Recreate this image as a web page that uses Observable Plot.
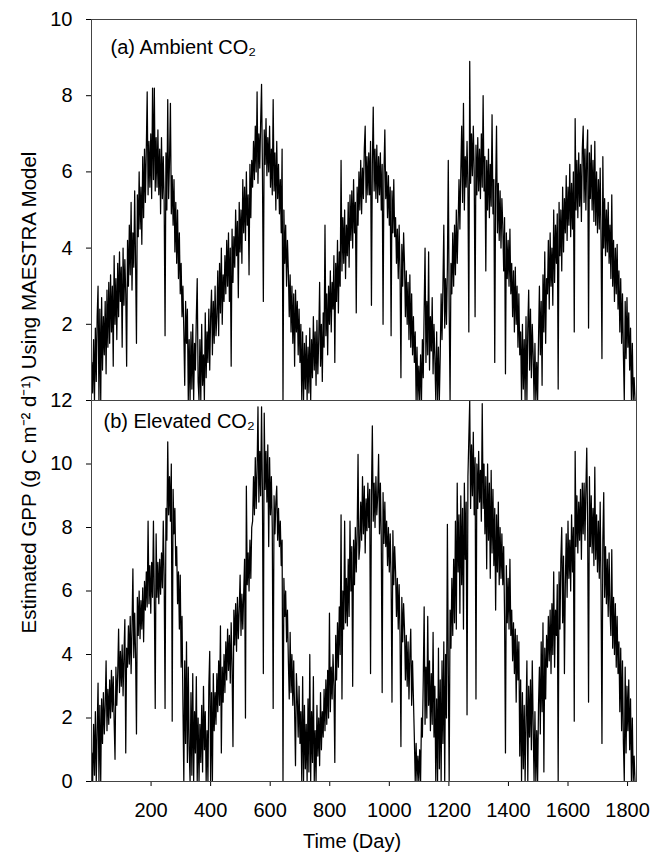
<!DOCTYPE html>
<html><head><meta charset="utf-8">
<script src="https://cdn.jsdelivr.net/npm/d3@7"></script>
<script src="https://cdn.jsdelivr.net/npm/@observablehq/plot@0.6"></script>
<style>
body{margin:0;background:#fff;}
#wrap{position:relative;width:661px;height:853px;background:#fff;}
#wrap svg{position:absolute;left:0;top:0;display:block;}
</style></head><body><div id="wrap"></div>
<script>
const dayStart = 1, dayStep = 3;
const ambient = [
1.0,0.2,1.6,0.0,1.9,0.5,2.2,3.0,0.0,2.4,
0.0,2.7,0.8,2.2,1.2,2.6,0.7,2.9,1.4,3.1,
1.5,3.3,1.8,3.0,0.9,3.8,2.0,3.2,1.6,3.6,
2.2,3.9,2.6,3.5,1.4,4.0,2.5,3.7,2.8,0.9,
4.2,3.0,4.6,3.3,5.2,2.9,4.4,3.5,5.5,3.6,
1.5,5.4,4.3,6.0,4.5,5.6,4.1,6.4,4.8,6.6,
5.2,6.6,8.1,5.4,6.8,5.6,7.0,5.3,8.2,5.8,
8.2,5.5,6.9,5.6,7.1,5.4,6.6,4.9,6.9,5.3,
6.4,5.2,1.7,6.5,5.0,7.9,5.3,6.3,7.8,4.9,
5.9,4.6,5.8,3.9,5.2,3.6,5.0,3.2,4.4,2.8,
3.6,2.2,3.0,1.8,0.4,2.6,1.5,2.4,0.0,1.6,
0.0,1.8,0.3,2.0,0.0,1.5,0.8,2.2,3.2,0.5,
0.0,1.6,0.0,2.0,0.4,1.2,0.0,2.3,0.6,1.8,
1.0,2.4,0.8,2.2,2.9,1.2,2.6,1.5,3.0,1.7,
2.2,3.4,1.7,3.6,2.3,4.0,2.0,3.3,2.6,3.8,
2.8,4.2,3.0,4.4,2.6,4.0,0.9,4.5,3.1,4.3,
3.5,5.0,3.8,4.7,2.7,5.2,3.9,5.0,3.6,5.8,
4.4,5.6,4.2,6.0,4.6,5.4,3.3,6.2,4.8,6.3,
5.6,6.8,5.8,7.2,6.0,8.1,5.7,7.0,6.1,7.3,
8.3,6.0,2.6,7.1,6.2,7.4,5.9,6.9,6.0,7.2,
5.6,6.6,5.4,7.9,5.5,6.5,5.0,6.8,5.3,6.2,
4.9,5.8,4.4,6.6,0.0,5.0,3.6,4.6,3.0,4.2,
3.4,2.2,3.3,1.8,3.0,1.5,2.8,0.9,2.9,1.8,
2.6,1.2,2.4,1.0,2.0,0.0,1.8,0.0,1.5,0.3,
1.7,0.0,1.4,0.2,1.9,0.0,1.6,0.6,2.2,0.8,
1.8,0.4,2.1,0.7,1.6,3.1,0.9,2.0,0.5,2.3,
1.4,4.6,1.7,2.8,1.2,3.0,2.0,3.4,1.8,3.1,
2.4,3.8,1.0,3.6,2.6,4.2,2.3,3.9,3.0,6.3,
3.4,4.8,3.6,5.0,3.2,4.6,3.8,5.2,3.5,5.4,
4.2,5.5,4.0,5.8,4.4,5.2,2.3,5.6,4.6,6.0,
5.0,6.3,4.9,6.1,5.3,6.6,7.2,5.2,6.4,5.4,
6.5,5.4,6.8,2.5,6.2,7.7,5.5,6.6,5.3,6.7,
5.2,6.4,5.4,6.5,5.0,6.2,2.0,6.0,7.1,5.3,
6.0,4.8,5.9,4.6,5.6,1.7,5.5,4.4,5.8,4.3,
4.8,3.6,4.5,3.2,4.6,3.4,0.6,4.1,3.0,4.4,
3.6,2.2,3.4,2.0,3.1,1.6,3.3,1.4,2.8,1.2,
2.2,1.0,1.8,0.0,1.4,0.0,0.9,0.0,1.2,0.0,
1.6,0.6,2.4,4.0,1.0,2.6,1.2,3.9,0.8,2.2,
1.3,2.7,0.7,2.0,1.1,0.0,1.8,0.0,1.4,0.0,
1.2,2.8,1.6,3.0,4.6,1.9,3.2,2.0,3.5,6.3,
2.4,0.0,3.6,2.8,4.4,3.0,4.6,3.3,5.0,3.6,
4.6,5.8,4.5,6.0,7.2,5.2,7.8,5.0,6.4,5.6,
6.8,5.6,1.8,8.9,5.7,7.0,5.9,7.2,6.0,2.2,
6.7,5.4,6.9,5.5,6.6,5.3,7.0,5.6,8.0,5.5,
6.4,3.4,6.3,5.0,6.6,4.8,6.2,5.1,7.5,4.9,
5.8,1.0,5.6,7.2,4.4,5.7,4.2,5.5,4.0,5.3,
4.6,3.4,4.8,0.7,4.4,3.2,4.2,3.0,4.5,2.8,
3.6,2.2,3.4,1.8,3.5,2.0,3.0,1.4,2.8,1.2,
1.8,0.0,2.0,0.3,1.6,0.0,2.2,0.0,1.9,2.9,
0.8,2.4,0.6,2.0,1.2,0.0,1.5,0.0,1.0,0.0,
1.6,3.0,1.2,2.6,0.4,3.3,1.8,3.9,1.5,3.2,
2.8,4.2,2.4,4.4,3.0,4.0,2.5,5.0,3.1,4.6,
3.6,4.9,0.3,5.2,3.8,5.0,3.4,5.6,3.9,5.3,
4.4,5.9,4.2,5.6,4.6,6.2,4.3,5.7,4.5,6.0,
1.8,7.4,5.0,6.3,4.8,6.5,5.1,6.2,4.7,6.6,
7.2,5.2,6.6,5.0,6.4,7.1,1.9,6.5,5.3,6.7,
5.0,6.3,4.7,6.8,4.6,6.0,4.4,5.8,4.5,6.1,
4.2,1.1,6.4,4.0,5.3,3.8,5.0,3.9,5.2,3.6,
4.6,3.2,5.4,3.0,4.2,2.6,4.0,2.8,4.1,2.4,
3.4,1.8,3.2,1.5,2.8,1.2,0.0,2.6,1.1,2.7,
1.4,2.3,0.8,1.9,0.0,1.5,0.0,0.6,0.0
];
const elevated = [
0.9,0.0,1.8,0.2,2.2,0.0,1.6,3.1,0.0,2.4,
0.0,2.6,1.2,2.8,1.5,2.4,3.8,1.6,2.9,1.8,
3.2,2.0,3.5,2.2,3.3,1.9,0.7,3.6,2.4,3.4,
4.8,2.8,4.1,3.0,4.3,2.7,4.0,5.1,0.9,4.2,
3.6,4.9,3.7,5.2,3.4,4.8,6.7,3.9,5.3,4.0,
1.5,5.8,4.6,6.0,4.5,5.7,4.8,6.1,4.4,6.3,
5.4,6.6,5.5,8.2,5.6,6.8,5.3,6.9,5.8,8.2,
5.7,2.3,7.8,5.8,6.9,5.6,7.0,5.9,7.2,6.1,
8.2,6.4,2.3,8.6,7.6,10.7,8.4,9.6,8.2,10.0,
1.9,9.2,7.8,8.6,6.8,7.4,5.6,6.6,4.8,6.5,
3.6,5.2,2.4,0.0,3.8,1.2,4.4,0.6,3.6,1.0,
0.0,2.8,0.2,3.4,0.0,2.2,0.9,3.3,0.0,2.0,
0.0,1.8,0.6,2.4,0.3,3.0,1.0,2.2,0.0,1.6,
0.0,3.0,4.1,0.0,2.8,0.0,3.4,1.6,2.8,1.8,
3.4,2.2,3.8,2.4,4.9,0.9,3.6,2.5,4.0,2.8,
4.4,3.2,4.8,3.5,4.6,3.1,5.0,3.6,1.1,5.4,
4.3,5.6,4.1,5.8,4.5,5.4,6.5,4.6,5.9,4.8,
5.9,7.0,2.0,9.3,6.2,7.2,6.0,7.6,6.4,8.0,
8.2,9.6,8.4,10.2,8.6,9.8,11.8,8.8,10.4,9.0,
11.8,9.0,3.4,11.6,9.2,10.4,8.8,10.6,7.4,10.2,
8.4,9.6,8.0,2.3,9.0,7.8,8.8,9.3,7.6,8.6,
7.4,8.2,6.8,7.6,0.0,6.4,5.2,6.0,4.4,5.4,
3.8,2.6,4.7,2.8,4.0,2.4,3.8,2.2,0.5,3.4,
2.6,1.4,3.0,1.2,2.2,0.0,3.3,0.0,2.4,0.4,
1.8,0.0,2.6,0.3,4.0,0.0,2.2,0.6,3.3,0.0,
1.6,0.0,2.4,0.8,2.0,0.5,2.8,1.0,2.2,1.4,
2.9,1.6,3.2,1.8,3.5,2.0,5.3,2.2,3.6,2.6,
4.0,3.0,0.6,4.6,3.2,5.0,3.6,5.5,4.0,8.4,
2.6,6.0,4.8,8.2,5.0,6.4,4.9,7.0,5.2,8.2,
6.0,7.4,3.0,7.6,6.2,8.0,6.6,7.8,10.3,7.0,
7.4,8.8,7.6,9.6,7.8,9.3,7.2,8.9,7.9,9.4,
8.0,9.2,3.4,9.0,11.2,8.2,9.4,8.0,9.6,8.4,
9.0,10.3,7.8,9.4,7.6,2.8,9.1,7.5,8.8,7.4,
8.2,6.8,8.0,6.6,7.8,6.4,2.5,7.9,6.2,7.4,
6.6,5.2,6.4,4.8,6.2,4.6,1.1,5.8,4.4,5.6,
4.8,3.2,4.6,3.0,4.4,2.6,4.0,4.8,2.4,3.8,
2.6,1.4,0.0,1.2,0.0,0.8,0.0,1.0,0.0,2.0,
1.4,3.2,5.5,1.8,3.6,2.0,5.2,2.4,3.8,1.6,
3.4,1.8,4.7,1.4,3.0,0.0,2.6,0.0,4.2,0.4,
3.2,0.0,3.8,1.2,4.4,0.0,4.0,2.0,8.1,3.6,
0.0,5.4,4.2,6.4,4.6,7.0,5.0,8.2,4.8,9.4,
6.6,8.4,5.3,9.0,6.2,8.6,4.8,9.4,7.0,8.8,
2.1,9.6,10.8,12.0,8.6,10.6,9.0,11.0,8.4,10.2,
2.6,10.0,8.6,10.4,8.8,9.8,8.2,11.9,8.6,10.0,
7.8,9.6,6.7,10.0,7.6,9.4,6.4,9.8,7.2,9.2,
6.8,8.6,5.4,8.4,6.6,8.8,6.2,8.0,6.4,7.8,
6.2,7.4,5.2,0.9,6.8,5.0,6.4,4.8,7.0,4.6,
5.4,3.8,5.0,3.4,4.8,2.5,4.6,3.2,4.4,0.8,
3.2,0.0,2.8,0.4,2.4,0.0,2.0,3.8,0.0,3.0,
1.4,3.2,1.0,3.8,1.8,0.0,2.2,0.0,1.6,0.0,
2.4,3.6,1.5,4.4,2.2,5.0,0.3,4.2,2.6,4.6,
3.6,5.2,3.8,5.4,3.4,5.6,4.0,6.6,3.6,5.4,
4.6,6.2,0.0,6.6,4.8,7.0,8.0,5.0,7.1,3.4,
6.2,7.8,5.8,8.2,6.4,7.6,6.0,8.4,6.6,8.0,
1.9,10.4,7.4,9.0,7.2,8.8,7.6,9.2,7.0,9.4,
7.8,9.4,7.6,9.2,10.5,7.9,2.5,9.6,7.4,9.0,
7.2,8.6,6.8,9.9,7.0,8.4,6.6,8.2,6.4,8.8,
6.0,1.2,7.6,9.1,5.8,7.4,5.6,7.0,5.2,7.2,
5.4,4.6,7.3,4.2,5.8,4.0,5.6,3.6,5.2,3.4,
4.4,2.2,4.2,1.6,3.8,1.2,0.0,3.6,0.9,3.0,
1.6,3.2,1.0,2.6,0.0,2.0,0.0,0.8,0.0
];
const xTicks = [200,400,600,800,1000,1200,1400,1600,1800];
const yTicksA = [2,4,6,8,10];
const yTicksB = [0,2,4,6,8,10,12];
const labelA = "(a) Ambient CO\u2082";
const labelB = "(b) Elevated CO\u2082";
const xTitle = "Time (Day)";
const yTitle = "Estimated GPP (g C m\u207B\u00B2 d\u207B\u00B9) Using MAESTRA Model";

const dataA = ambient.map((v, i) => ({day: dayStart + i * dayStep, v}));
const dataB = elevated.map((v, i) => ({day: dayStart + i * dayStep, v}));

const font = "'Liberation Sans', Arial, sans-serif";
const baseStyle = {fontFamily: font, fontSize: "20px", color: "#000", background: "transparent"};

const topPlot = Plot.plot({
  width: 661, height: 400,
  marginTop: 19, marginBottom: 0, marginLeft: 91, marginRight: 25,
  style: baseStyle,
  x: {domain: [0, 1830], axis: null},
  y: {domain: [0, 10], ticks: yTicksA, tickSize: 5, tickPadding: 14, label: null},
  marks: [
    Plot.line(dataA, {x: "day", y: "v", stroke: "#000", strokeWidth: 1.25, clip: true}),
    Plot.frame({stroke: "#444"}),
    Plot.text([labelA], {text: d => d, frameAnchor: "top-left", textAnchor: "start", lineAnchor: "top", dx: 19, dy: 20, fontSize: 20})
  ]
});

const bottomPlot = Plot.plot({
  width: 661, height: 853,
  marginTop: 400, marginBottom: 72, marginLeft: 91, marginRight: 25,
  style: baseStyle,
  x: {domain: [0, 1830], ticks: xTicks, tickSize: 5, tickPadding: 16, label: null, tickFormat: d => `${d}`},
  y: {domain: [0, 12], ticks: yTicksB, tickSize: 5, tickPadding: 14, label: null},
  marks: [
    Plot.line(dataB, {x: "day", y: "v", stroke: "#000", strokeWidth: 1.25, clip: true}),
    Plot.frame({stroke: "#444"}),
    Plot.text([labelB], {text: d => d, frameAnchor: "top-left", textAnchor: "start", lineAnchor: "top", dx: 12, dy: 13, fontSize: 20}),
    Plot.text([xTitle], {text: d => d, frameAnchor: "bottom", textAnchor: "middle", lineAnchor: "middle", dx: -12, dy: 60, fontSize: 20}),
    Plot.text([yTitle], {text: d => d, frameAnchor: "top-left", textAnchor: "middle", lineAnchor: "middle", rotate: -90, dx: -62, dy: -8, fontSize: 20.5})
  ]
});

const wrap = document.getElementById("wrap");
wrap.appendChild(topPlot);
wrap.appendChild(bottomPlot);
</script>
</body></html>
